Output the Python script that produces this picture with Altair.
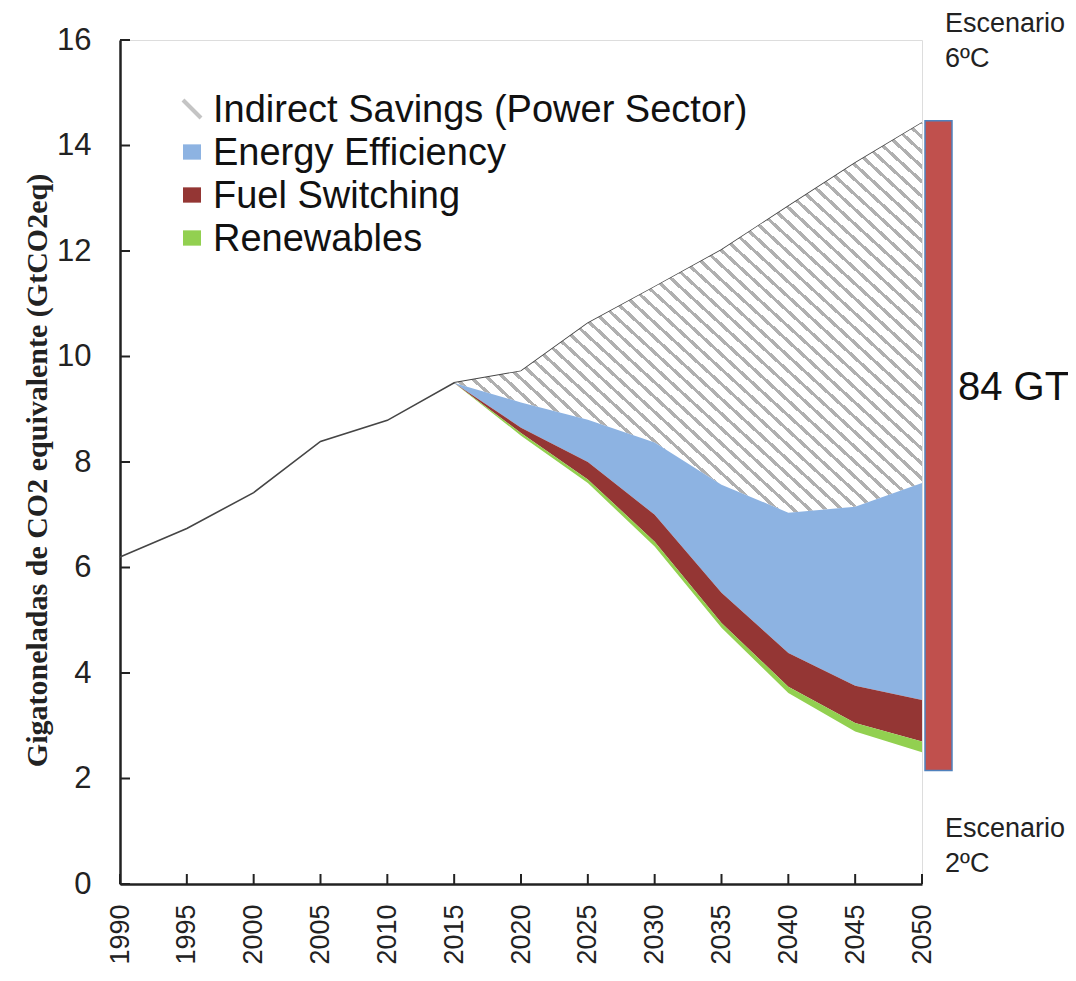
import altair as alt
import pandas as pd

# ---------------- data ----------------
years = [1990, 1995, 2000, 2005, 2010, 2015, 2020, 2025, 2030, 2035, 2040, 2045, 2050]
scenario_6ds = [6.2, 6.74, 7.42, 8.39, 8.79, 9.5, 9.72, 10.63, 11.32, 12.02, 12.85, 13.67, 14.43]

proj_years = [2015, 2020, 2025, 2030, 2035, 2040, 2045, 2050]
eff_top = [9.5, 9.13, 8.8, 8.37, 7.57, 7.04, 7.15, 7.6]
fuel_top = [9.5, 8.65, 8.0, 7.0, 5.52, 4.38, 3.76, 3.49]
renew_top = [9.5, 8.55, 7.67, 6.49, 4.95, 3.74, 3.05, 2.7]
scenario_2ds = [9.5, 8.5, 7.6, 6.4, 4.86, 3.62, 2.89, 2.5]

gap_range = [2.15, 14.47]
gap_label = ["84 GT"]
top_label = ["Escenario", "6ºC"]
bottom_label = ["Escenario", "2ºC"]

y_ticks = [0, 2, 4, 6, 8, 10, 12, 14, 16]
legend_labels = ["Indirect Savings (Power Sector)", "Energy Efficiency", "Fuel Switching", "Renewables"]
legend_colors = ["#c4c4c4", "#8db3e2", "#943634", "#92d050"]

# ---------------- styles ----------------
FONT = "Liberation Sans"
W, H = 802, 844
xscale = alt.Scale(domain=[1990, 2050], nice=False, zero=False)
yscale = alt.Scale(domain=[0, 16], nice=False)

# hatch made from a striped linear gradient
N_STRIPES = 58
FRAC = 0.3
stops = []
for i in range(N_STRIPES):
    a0 = i / N_STRIPES
    a1 = (i + FRAC) / N_STRIPES
    a2 = (i + 1) / N_STRIPES
    stops += [alt.GradientStop(offset=a0, color="#b0b0b0"),
              alt.GradientStop(offset=a1, color="#b0b0b0"),
              alt.GradientStop(offset=a1, color="#ffffff"),
              alt.GradientStop(offset=a2, color="#ffffff")]
hatch = alt.LinearGradient(gradient="linear", stops=stops, x1=0, y1=1, x2=1.1, y2=0)

# ---------------- tables ----------------
hist = pd.DataFrame({"year": years, "value": scenario_6ds})
n = len(proj_years)
proj = pd.DataFrame({
    "year": proj_years,
    "s6": scenario_6ds[-n:],
    "eff": eff_top,
    "fuel": fuel_top,
    "ren": renew_top,
    "s2": scenario_2ds,
})

X = lambda f: alt.X(f"{f}:Q", scale=xscale)
Y = lambda f: alt.Y(f"{f}:Q", scale=yscale)

line = alt.Chart(hist).mark_line(color="#454545", strokeWidth=1.6).encode(
    x=alt.X("year:Q", scale=xscale,
            axis=alt.Axis(values=years, format="d", labelAngle=270, labelFontSize=27, labelFont=FONT,
                          labelColor="#222", labelPadding=20, ticks=False, grid=False,
                          domainColor="#222", domainWidth=2.5, labelFlush=False, labelOverlap=False,
                          title=None)),
    y=alt.Y("value:Q", scale=yscale,
            axis=alt.Axis(values=y_ticks, labelFontSize=31, labelFont=FONT, labelColor="#222",
                          labelPadding=29, ticks=False, grid=False, domainColor="#222", domainWidth=2.5,
                          title="Gigatoneladas de CO2 equivalente (GtCO2eq)",
                          titleFont="Liberation Serif", titleFontWeight="bold", titleFontSize=30,
                          titleColor="#222", titleX=-68, titleY=430)),
)

hatched = alt.Chart(proj).mark_area(color=hatch).encode(x=X("year"), y=Y("eff"), y2="s6:Q")
eff_area = alt.Chart(proj).mark_area(color=legend_colors[1]).encode(x=X("year"), y=Y("fuel"), y2="eff:Q")
fuel_area = alt.Chart(proj).mark_area(color=legend_colors[2]).encode(x=X("year"), y=Y("ren"), y2="fuel:Q")
ren_area = alt.Chart(proj).mark_area(color=legend_colors[3]).encode(x=X("year"), y=Y("s2"), y2="ren:Q")

# inward tick marks
ytick_df = pd.DataFrame({"v": y_ticks})
ytick_layer = alt.Chart(ytick_df).mark_rule(color="#222", strokeWidth=2).encode(
    y=Y("v"), x=alt.value(0), x2=alt.value(10))
xtick_df = pd.DataFrame({"yr": years})
xtick_layer = alt.Chart(xtick_df).mark_rule(color="#222", strokeWidth=2).encode(
    x=X("yr"), y=alt.value(H), y2=alt.value(H - 10))

# gap bar
gap_df = pd.DataFrame({"lo": [gap_range[0]], "hi": [gap_range[1]]})
gap_bar = alt.Chart(gap_df).mark_rect(color="#c0504d", stroke="#4f81bd", strokeWidth=1.5).encode(
    y=Y("lo"), y2="hi:Q", x=alt.value(805), x2=alt.value(832))

gap_text = alt.Chart(pd.DataFrame({"t": gap_label})).mark_text(
    font=FONT, fontSize=40, color="#111", align="left", baseline="alphabetic").encode(
    text="t:N", x=alt.value(838), y=alt.value(360))

top_text = alt.Chart(pd.DataFrame({"t": [0]})).mark_text(
    text=top_label, font=FONT, fontSize=27, lineHeight=35, color="#222", align="left",
    baseline="alphabetic").encode(x=alt.value(825), y=alt.value(-8))
bot_text = alt.Chart(pd.DataFrame({"t": [0]})).mark_text(
    text=bottom_label, font=FONT, fontSize=27, lineHeight=35, color="#222", align="left",
    baseline="alphabetic").encode(x=alt.value(825), y=alt.value(797))

# legend (one small layer per row)
legend_layers = []
for i, (lab, col) in enumerate(zip(legend_labels, legend_colors)):
    row = pd.DataFrame({"label": [lab]})
    ypx = 71 + i * 43
    if i == 0:
        sym = alt.Chart(row).mark_point(shape="M-1,-1L1,1", filled=False, size=324, strokeWidth=4,
                                        color=col, opacity=1)
    else:
        sym = alt.Chart(row).mark_point(shape="M-1,-0.85H1V0.85H-1Z", filled=True, size=324,
                                        color=col, opacity=1)
    legend_layers.append(sym.encode(x=alt.value(72), y=alt.value(ypx - 2)))
    legend_layers.append(alt.Chart(row).mark_text(font=FONT, fontSize=38, color="#111", align="left",
                                                  baseline="middle").encode(
        x=alt.value(93), y=alt.value(ypx), text="label:N"))

chart = alt.layer(
    line, hatched, eff_area, fuel_area, ren_area, ytick_layer, xtick_layer,
    gap_bar, gap_text, top_text, bot_text, *legend_layers
).properties(
    width=W, height=H,
    autosize=alt.AutoSizeParams(type="none"),
    padding={"left": 112, "top": 32, "right": 146, "bottom": 84},
).configure_view(stroke="#333", strokeWidth=1.5).configure(background="white")

chart.save("out.html", embed_options={"renderer": "svg", "actions": False})
